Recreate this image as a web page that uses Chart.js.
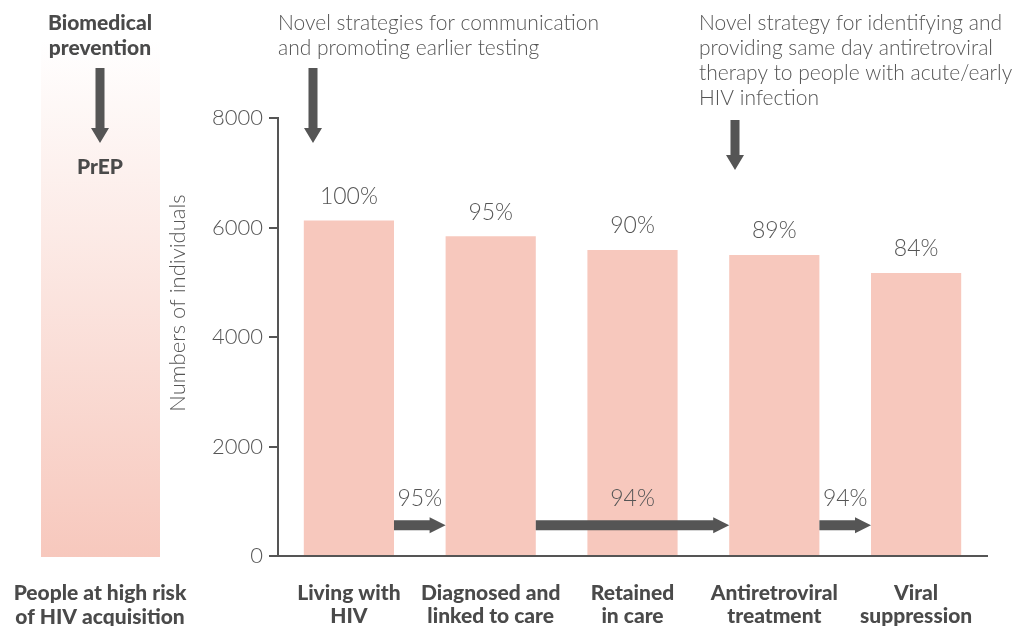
<!DOCTYPE html>
<html>
<head>
<meta charset="utf-8">
<script src="https://cdn.jsdelivr.net/npm/chart.js@4"></script>
<style>
  html, body { margin: 0; padding: 0; background: #fff; }
  #wrap { width: 1020px; height: 626px; position: relative; }
</style>
</head>
<body>
<div id="wrap"><canvas id="cascade"></canvas></div>
<script>
/* --------------- Data --------------------- */

const categories = [
  ["Living with", "HIV"],
  ["Diagnosed and", "linked to care"],
  ["Retained", "in care"],
  ["Antiretroviral", "treatment"],
  ["Viral", "suppression"],
];
const counts = [6130, 5840, 5590, 5500, 5170];
const shareOfTotal = ["100%", "95%", "90%", "89%", "84%"];

// step-to-step retention, drawn as arrows between stages (from index -> to index)
const stepFrom = [0, 1, 3];
const stepTo = [1, 3, 4];
const stepLabels = ["95%", "94%", "94%"];

const yTicks = [0, 2000, 4000, 6000, 8000];

/* --------------- Styles --------------------- */

const barColor = "#f7c8bd";
const ink = "#555555";
const boldInk = "#4a4a4a";
const lightFont = "Lato, 'Open Sans', sans-serif";

/* --------------- Helpers --------------------- */

function arrowRight(ctx, x0, x1, y) {
  const shaft = 10, headH = 16, headL = 16;
  ctx.beginPath();
  ctx.moveTo(x0, y - shaft / 2);
  ctx.lineTo(x1 - headL, y - shaft / 2);
  ctx.lineTo(x1 - headL, y - headH / 2);
  ctx.lineTo(x1, y);
  ctx.lineTo(x1 - headL, y + headH / 2);
  ctx.lineTo(x1 - headL, y + shaft / 2);
  ctx.lineTo(x0, y + shaft / 2);
  ctx.closePath();
  ctx.fill();
}

function arrowDown(ctx, x, y0, y1) {
  const shaft = 9, headW = 18, headL = 15;
  ctx.beginPath();
  ctx.moveTo(x - shaft / 2, y0);
  ctx.lineTo(x + shaft / 2, y0);
  ctx.lineTo(x + shaft / 2, y1 - headL);
  ctx.lineTo(x + headW / 2, y1 - headL);
  ctx.lineTo(x, y1);
  ctx.lineTo(x - headW / 2, y1 - headL);
  ctx.lineTo(x - shaft / 2, y1 - headL);
  ctx.closePath();
  ctx.fill();
}

/* --------------- Annotation plugin --------------------- */

const cascadeExtras = {
  id: "cascadeExtras",
  beforeDatasetsDraw(chart) {
    const ctx = chart.ctx;
    // left gradient column: people at high risk
    ctx.save();
    const g = ctx.createLinearGradient(0, 40, 0, 557);
    g.addColorStop(0, "#ffffff");
    g.addColorStop(1, barColor);
    ctx.fillStyle = g;
    ctx.fillRect(41, 40, 119, 517);
    ctx.restore();
  },
  afterDatasetsDraw(chart) {
    const ctx = chart.ctx;
    const meta = chart.getDatasetMeta(0);
    ctx.save();
    ctx.fillStyle = ink;
    ctx.textAlign = "center";
    ctx.textBaseline = "middle";

    // share of total above each bar
    ctx.font = "300 23px " + lightFont;
    meta.data.forEach((bar, i) => {
      ctx.fillText(shareOfTotal[i], bar.x, bar.y - 24);
    });

    // step arrows near the bottom
    const yArrow = chart.scales.y.getPixelForValue(560);
    stepFrom.forEach((from, i) => {
      const a = meta.data[from], b = meta.data[stepTo[i]];
      const x0 = a.x + a.width / 2;
      const x1 = b.x - b.width / 2;
      arrowRight(ctx, x0, x1, yArrow);
      ctx.fillText(stepLabels[i], (x0 + x1) / 2, yArrow - 27);
    });

    // top annotations
    ctx.textAlign = "left";
    ctx.font = "300 21px " + lightFont;
    ["Novel strategies for communication", "and promoting earlier testing"]
      .forEach((t, i) => ctx.fillText(t, 278, 23 + i * 25));
    arrowDown(ctx, 313, 68, 143);

    ["Novel strategy for identifying and", "providing same day antiretroviral",
     "therapy to people with acute/early", "HIV infection"]
      .forEach((t, i) => ctx.fillText(t, 699, 23 + i * 25));
    arrowDown(ctx, 735, 120, 170);

    // left column labels
    ctx.textAlign = "center";
    ctx.fillStyle = boldInk;
    ctx.font = "900 21px " + lightFont;
    ctx.fillText("Biomedical", 100, 23);
    ctx.fillText("prevention", 100, 48);
    ctx.fillText("PrEP", 100, 167);
    ctx.fillText("People at high risk", 100, 593);
    ctx.fillText("of HIV acquisition", 100, 617);
    ctx.fillStyle = ink;
    arrowDown(ctx, 100, 68, 143);

    // y axis title
    ctx.translate(178, 303);
    ctx.rotate(-Math.PI / 2);
    ctx.font = "300 22px " + lightFont;
    ctx.fillStyle = ink;
    ctx.fillText("Numbers of individuals", 0, 0);
    ctx.restore();
  },
};

/* --------------- Chart --------------------- */

const chart = new Chart(document.getElementById("cascade"), {
  type: "bar",
  plugins: [cascadeExtras],
  data: {
    labels: categories,
    datasets: [
      {
        data: counts,
        backgroundColor: barColor,
        borderWidth: 0,
        categoryPercentage: 1,
        barPercentage: 0.636,
      },
    ],
  },
  options: {
    responsive: true,
    maintainAspectRatio: false,
    animation: false,
    layout: { padding: { top: 118, right: 33, left: 0, bottom: 0 } },
    plugins: {
      legend: { display: false },
      tooltip: { enabled: false },
    },
    scales: {
      x: {
        z: 1,
        grid: { display: false },
        border: { color: ink, width: 2 },
        afterFit: (s) => { s.height = 70; },
        ticks: {
          padding: 18,
          maxRotation: 0,
          minRotation: 0,
          autoSkip: false,
          color: boldInk,
          font: { family: lightFont, size: 21, weight: 900, lineHeight: 1.1 },
        },
      },
      y: {
        min: 0,
        max: 8000,
        afterFit: (s) => { s.width = 278; },
        afterBuildTicks: (s) => { s.ticks = yTicks.map((v) => ({ value: v })); },
        border: { color: ink, width: 2 },
        grid: { drawOnChartArea: false, drawTicks: true, tickLength: 9, color: ink, lineWidth: 2 },
        ticks: {
          padding: 6,
          color: ink,
          callback: (v) => String(v),
          font: { family: lightFont, size: 22, weight: 300 },
        },
      },
    },
  },
});
</script>
</body>
</html>
